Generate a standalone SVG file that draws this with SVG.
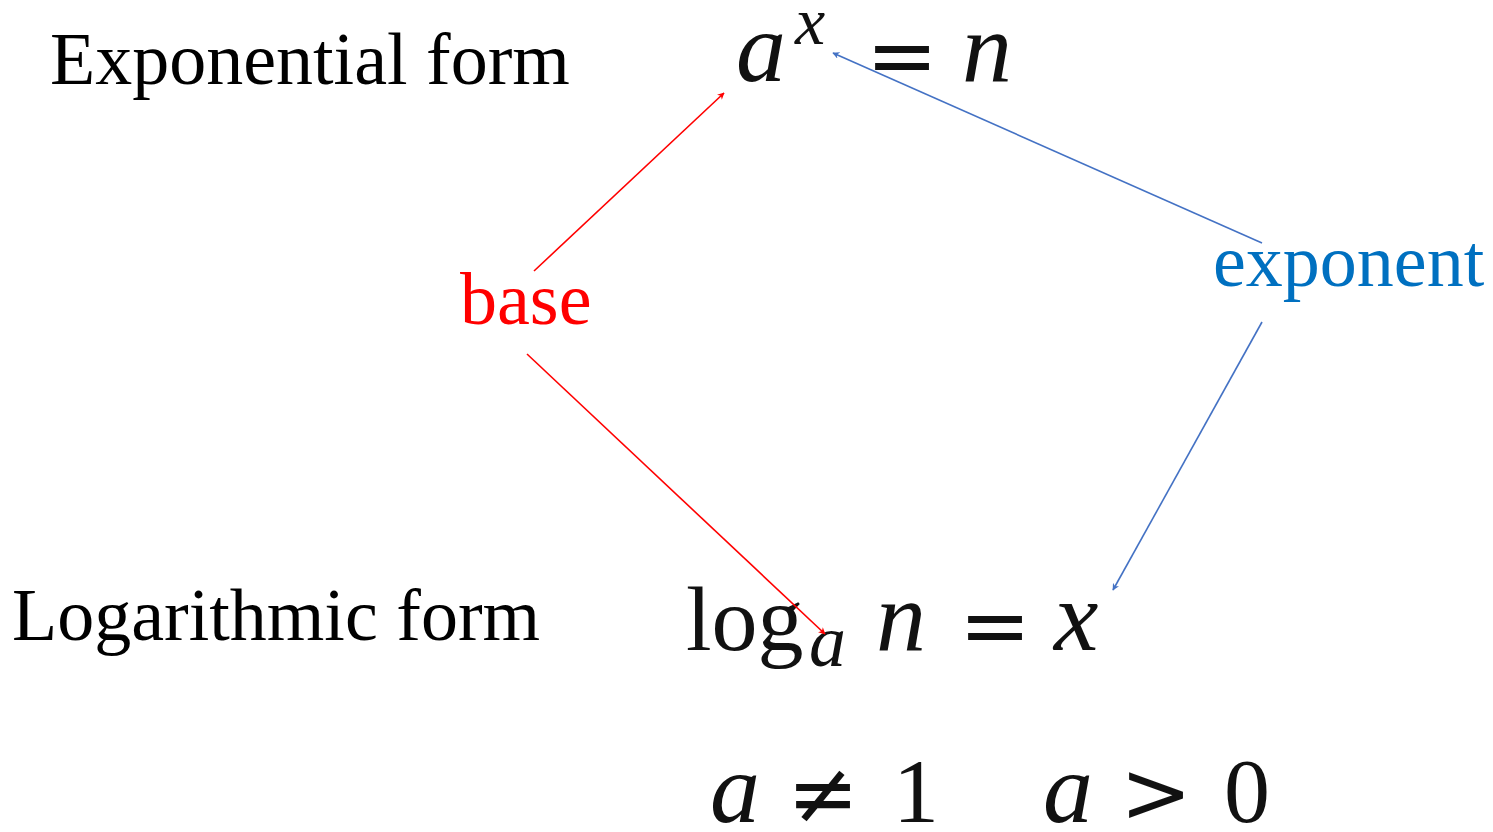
<svg xmlns="http://www.w3.org/2000/svg" width="1493" height="832" viewBox="0 0 1493 832">
<style>
.lbl{font-family:"Liberation Serif","Times New Roman",serif;font-size:74px;fill:#000}
.m{font-family:"Liberation Serif","Times New Roman",serif;font-size:92px;fill:#111}
.i{font-style:italic;font-size:100px}
.op{font-family:"DejaVu Sans","Liberation Sans",sans-serif;font-size:86px;fill:#111}
.red{stroke:#FF0000;stroke-width:1.6;fill:none}
.blue{stroke:#4472C4;stroke-width:1.6;fill:none}
</style>
<defs>
<marker id="ar" viewBox="0 0 10 10" refX="9" refY="5" markerWidth="7" markerHeight="7" orient="auto" markerUnits="userSpaceOnUse"><path d="M0,0 L10,5 L0,10 L3,5 z" fill="#FF0000"/></marker>
<marker id="ab" viewBox="0 0 10 10" refX="9" refY="5" markerWidth="7" markerHeight="7" orient="auto" markerUnits="userSpaceOnUse"><path d="M0,0 L10,5 L0,10 L3,5 z" fill="#4472C4"/></marker>
</defs>
<g id="exp-label"><text class="lbl" x="50" y="84">Exponential form</text></g>
<g id="log-label"><text class="lbl" x="12" y="640">Logarithmic form</text></g>
<g id="base"><text class="lbl" x="460" y="324" style="fill:#FF0000">base</text></g>
<g id="exponent"><text class="lbl" x="1213" y="286" style="fill:#0070C0">exponent</text></g>
<g id="exp-eq">
<text class="m i" x="736" y="81">a</text>
<text class="m i" x="795" y="44" style="font-size:68px">x</text>
<text class="op" x="866" y="85">=</text>
<text class="m i" x="962" y="81">n</text>
</g>
<g id="log-eq">
<text class="m" x="686" y="650">log</text>
<text class="m i" x="809" y="666" style="font-size:74px">a</text>
<text class="m i" x="876" y="650">n</text>
<text class="op" x="959" y="655">=</text>
<text class="m i" x="1054" y="650">x</text>
</g>
<g id="cond">
<text class="m i" x="710" y="822">a</text>
<text class="op" x="787" y="823">≠</text>
<text class="m" x="893" y="822">1</text>
<text class="m i" x="1043" y="822">a</text>
<text class="op" x="1120" y="822">&gt;</text>
<text class="m" x="1224" y="822">0</text>
</g>
<g id="connectors">
<line class="red" x1="534" y1="271" x2="724" y2="93" marker-end="url(#ar)"/>
<line class="red" x1="527" y1="354" x2="825" y2="634" marker-end="url(#ar)"/>
<line class="blue" x1="1262" y1="243" x2="833" y2="53" marker-end="url(#ab)"/>
<line class="blue" x1="1262" y1="322" x2="1113" y2="590" marker-end="url(#ab)"/>
</g>
</svg>
